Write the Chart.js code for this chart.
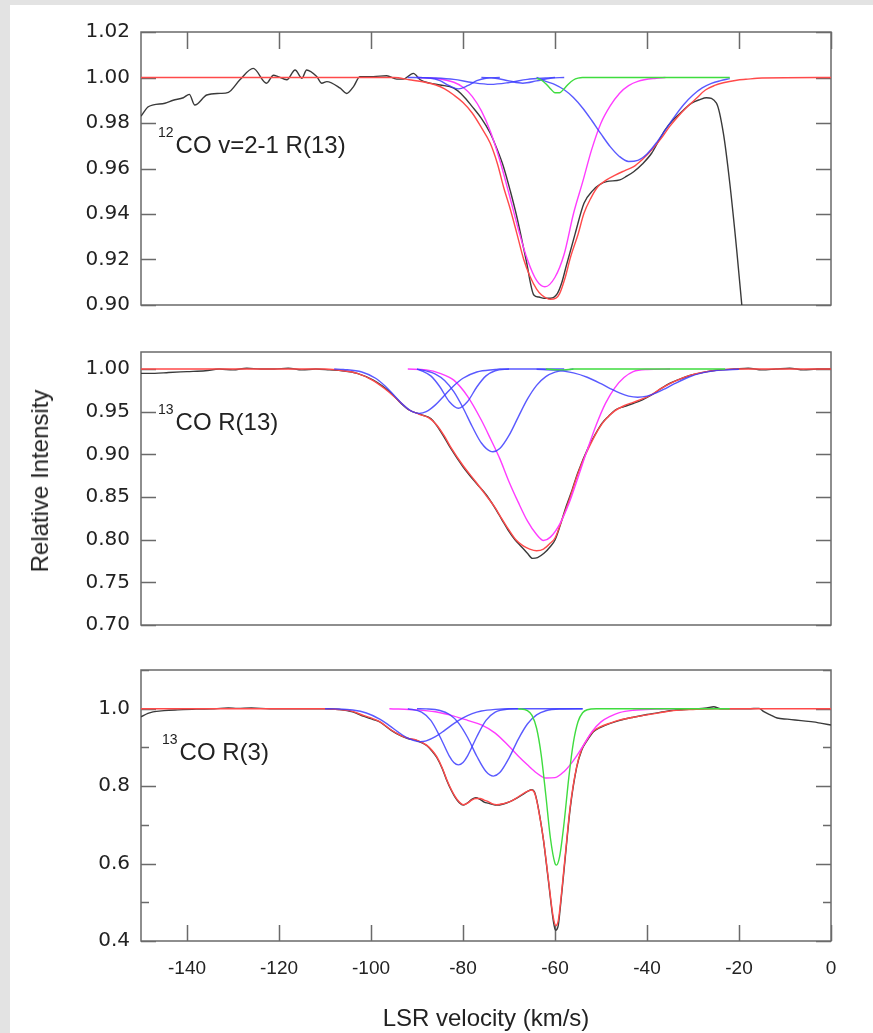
<!DOCTYPE html>
<html>
<head>
<meta charset="utf-8">
<title>CO line profiles</title>
<script src="https://cdn.jsdelivr.net/npm/chart.js@4.4.1/dist/chart.umd.min.js"></script>
<style>
  html, body { margin: 0; padding: 0; }
  body {
    width: 873px; height: 1033px; position: relative; overflow: hidden;
    background: #e3e3e3; color: #222;
    font-family: 'Liberation Sans', Arial, sans-serif;
  }
  #sheet { position: absolute; left: 10px; top: 5px; right: 0; bottom: 0; background: #fff; }
  canvas { position: absolute; left: 0; }
  .tag { position: absolute; font-size: 24px; line-height: 24px; white-space: nowrap; }
  .tag span { position: relative; top: -16px; font-size: 14px; margin-right: 2px; }
  #xtitle { position: absolute; left: 141px; width: 690px; top: 1006px; text-align: center; font-size: 24px; line-height: 24px; }
  #ytitle {
    position: absolute; left: 40px; top: 481px; font-size: 24px; line-height: 24px; white-space: nowrap;
    transform: translate(-50%, -50%) rotate(-90deg);
  }
</style>
</head>
<body>
<div id="sheet"></div>
<canvas id="panel1" width="873" height="300" style="top:20px"></canvas>
<canvas id="panel2" width="873" height="301" style="top:339px"></canvas>
<canvas id="panel3" width="873" height="378" style="top:655px"></canvas>

<div class="tag" style="left:158px; top:133px"><span>12</span>CO v=2-1 R(13)</div>
<div class="tag" style="left:158px; top:410px"><span>13</span>CO R(13)</div>
<div class="tag" style="left:162px; top:740px"><span>13</span>CO R(3)</div>
<div id="ytitle">Relative Intensity</div>
<div id="xtitle">LSR velocity (km/s)</div>

<script>
// ---- axis ticks ----
const xTickVals = [-140, -120, -100, -80, -60, -40, -20, 0];
const p1TickVals = [0.90, 0.92, 0.94, 0.96, 0.98, 1.00, 1.02];
const p2TickVals = [0.70, 0.75, 0.80, 0.85, 0.90, 0.95, 1.00];
const p3TickVals = [0.4, 0.5, 0.6, 0.7, 0.8, 0.9, 1.0, 1.1];

// ---- panel 1: 12CO v=2-1 R(13)   [velocity, intensity] ----
const p1Obs = [[-150,0.983],[-148.5,0.987],[-147.3,0.988],[-144.8,0.9887],[-143,0.990],[-140.8,0.9911],[-139.5,0.9926],
  [-138.3,0.9879],[-135.7,0.9923],[-132.8,0.993],[-131,0.9935],[-128.5,0.999],[-125.6,1.004],[-122.7,0.9975],
  [-121.2,1.001],[-120.2,1.0004],[-118.3,0.999],[-116.5,1.0033],[-115,0.9997],[-114,1.0033],[-111.8,1.0004],
  [-110.7,0.9975],[-109.6,0.9982],[-106.7,0.9953],[-105.3,0.993],[-103.8,0.996],[-102.4,1.0004],[-99.5,1.0004],
  [-96.6,1.0008],[-94.4,0.9993],[-93,0.9993],[-90.8,1.0018],[-89.3,0.999],[-87.2,0.9975],[-85,0.9967],[-82,0.9953],
  [-80,0.992],[-78,0.9872],[-76,0.982],[-74.1,0.9756],[-72.5,0.968],[-71.2,0.9608],[-69.7,0.950],[-68.3,0.9388],
  [-66.3,0.920],[-64.6,0.9044],[-63.5,0.9035],[-62.4,0.903],[-61,0.903],[-59.5,0.905],[-58.5,0.910],[-57.6,0.9168],
  [-55.6,0.9315],[-53.7,0.9447],[-51.7,0.9505],[-50.2,0.953],[-48.8,0.9542],[-45.9,0.955],[-44.5,0.9565],
  [-42.9,0.9586],[-41,0.962],[-39,0.9667],[-37.5,0.972],[-36.1,0.9769],[-34.5,0.981],[-33.2,0.9835],[-30.3,0.9887],
  [-28.5,0.9903],[-27.1,0.9911],[-24.9,0.9887],[-23.4,0.9755],[-22,0.9535],[-20.5,0.9242],[-19.3,0.898]];
const p1Fit = [[-150,1],[-95,1],[-91.7,0.999],[-88,0.9978],[-85.9,0.9967],[-84,0.995],[-82,0.9923],[-80,0.989],
  [-78,0.9844],[-76,0.978],[-74.1,0.9712],[-72.5,0.962],[-71.2,0.952],[-69.7,0.942],[-68.3,0.9315],[-66.8,0.920],
  [-65.4,0.9124],[-64,0.907],[-62.9,0.9044],[-61,0.9025],[-59.8,0.903],[-59,0.905],[-57.8,0.912],[-56.6,0.9212],
  [-55,0.931],[-53.7,0.9403],[-52.2,0.947],[-50.7,0.952],[-48.8,0.955],[-46.9,0.9571],[-44.9,0.959],[-42.9,0.9608],
  [-41,0.964],[-39,0.9681],[-37,0.973],[-35.1,0.9784],[-33.2,0.983],[-31.2,0.9872],[-29.2,0.991],[-27.3,0.9945],
  [-25.3,0.9965],[-23.4,0.9977],[-20.5,0.9988],[-18.5,0.9992],[-15,0.9998],[0,1]];
const p1Pink = [[-90,1],[-86,0.9996],[-82,0.9979],[-80,0.9957],[-78,0.9917],[-76,0.9853],[-74,0.976],[-72,0.9636],
  [-70,0.9489],[-68,0.9335],[-66,0.920],[-64,0.9108],[-62.2,0.908],[-60,0.9122],[-58,0.9224],[-56,0.940],[-54,0.954],
  [-52,0.9685],[-50,0.980],[-48,0.9875],[-46,0.993],[-44,0.9964],[-42,0.9983],[-38,0.9997],[-36,1]];
const p1BlueA = [[-64,1],[-62,0.9983],[-60,0.9969],[-58,0.9946],[-56,0.9912],[-54,0.9866],[-52,0.9811],[-50,0.9752],
  [-48,0.9696],[-46,0.9653],[-44,0.9631],[-42,0.9636],[-40,0.9664],[-38,0.9712],[-36,0.977],[-34,0.9828],
  [-32,0.9881],[-30,0.9923],[-28,0.9954],[-26,0.9974],[-24,0.9986],[-22,0.9995]];
const p1BlueB = [[-92,1],[-87,0.9997],[-85,0.9986],[-83,0.9964],[-81,0.995],[-79,0.9964],[-77,0.9986],[-75,0.9997],[-72,1]];
const p1BlueC = [[-90,1],[-86,0.9998],[-82,0.9992],[-78,0.9978],[-74,0.997],[-70,0.9978],[-66,0.9992],[-62,0.9998],[-60,1]];
const p1BlueD = [[-76,1],[-73,0.9997],[-70,0.9985],[-67,0.9975],[-64,0.9985],[-61,0.9997],[-58,1]];
const p1Green = [[-64,0.9997],[-63,0.9989],[-62,0.9973],[-61,0.9951],[-60,0.9933],[-59,0.9933],[-58,0.9951],
  [-57,0.9973],[-56,0.9989],[-55,0.9997],[-54,1],[-22,1]];

// ---- panel 2: 13CO R(13) ----
const p2Obs = [[-150,0.995],[-147,0.995],[-144,0.996],[-140,0.997],[-136,0.998],[-133,1.0],[-130,0.999],[-127,1.001],
  [-124,1.0],[-121,1.0],[-118,1.001],[-115,0.999],[-112,1.0],[-109,0.999],[-106.3,0.998],[-103,0.995],[-99.5,0.987],
  [-97.5,0.98],[-95.6,0.9716],[-93.5,0.96],[-91.7,0.952],[-88.8,0.9461],[-87,0.942],[-85.8,0.9344],[-84.3,0.922],
  [-82.9,0.909],[-80,0.8855],[-77.1,0.866],[-75,0.853],[-73.2,0.8386],[-71.5,0.823],[-70.2,0.8113],[-68.7,0.800],
  [-67.3,0.7918],[-66,0.784],[-64.9,0.7781],[-63.8,0.779],[-62.4,0.784],[-61,0.792],[-60,0.7996],[-58.8,0.818],
  [-57.6,0.8386],[-56.3,0.858],[-55.1,0.8777],[-52.7,0.909],[-51.2,0.924],[-49.8,0.9364],[-48.3,0.945],[-46.9,0.952],
  [-45,0.956],[-42.9,0.9599],[-41,0.964],[-39,0.9696],[-37,0.977],[-35.1,0.9833],[-33,0.988],[-30.3,0.993],
  [-27,0.997],[-24.5,0.9989],[-21,1.0],[-18,1.001],[-15,0.999],[-12,1.0],[-9,1.001],[-6,0.999],[-3,1.0],[0,1.0]];
const p2Fit = [[-150,1],[-110,1],[-106,0.998],[-103,0.995],[-100,0.988],[-97,0.977],[-94,0.963],[-91.7,0.952],
  [-89.5,0.947],[-87.5,0.943],[-85.8,0.935],[-84,0.921],[-82.5,0.907],[-80,0.887],[-77.1,0.867],[-75,0.852],
  [-73.2,0.839],[-71.5,0.824],[-70.2,0.813],[-68.5,0.800],[-67,0.793],[-65.5,0.789],[-64,0.787],[-62.5,0.789],
  [-61,0.796],[-60,0.802],[-58.5,0.823],[-57,0.845],[-55.1,0.876],[-53.5,0.898],[-52,0.915],[-50.5,0.930],
  [-49,0.941],[-47,0.951],[-45,0.957],[-43,0.961],[-41,0.965],[-39,0.970],[-37,0.977],[-35,0.983],[-33,0.988],
  [-31,0.992],[-28,0.996],[-24,0.999],[-20,1],[0,1]];
const p2Pink = [[-92,1],[-88,0.999],[-85,0.995],[-82,0.987],[-79,0.968],[-76,0.940],[-74,0.918],[-72,0.895],
  [-70,0.868],[-68,0.844],[-66,0.822],[-64,0.806],[-62.5,0.799],[-61,0.803],[-59,0.818],[-57,0.842],[-55,0.873],
  [-53,0.905],[-51,0.935],[-49,0.960],[-47,0.978],[-45,0.990],[-43,0.997],[-40,0.9995],[-35,1]];
const p2BlueA = [[-108,1],[-106,0.9995],[-102,0.9966],[-99,0.9892],[-97,0.9804],[-95,0.9693],[-93,0.958],[-91,0.950],
  [-89.5,0.948],[-88,0.950],[-86,0.958],[-84,0.9693],[-82,0.9804],[-80,0.9892],[-77,0.9966],[-73,0.9995],[-72,1],[-58,1]];
const p2BlueB = [[-90,1],[-89,0.998],[-87,0.992],[-85,0.979],[-83,0.962],[-81,0.954],[-79,0.962],[-77,0.979],
  [-75,0.992],[-73,0.998],[-70,1]];
const p2BlueC = [[-90,1],[-88,0.9978],[-86,0.9942],[-84,0.9867],[-82,0.9736],[-80,0.9547],[-78,0.9327],[-76,0.9133],
  [-74,0.9034],[-73.5,0.903],[-72,0.9068],[-70,0.9222],[-68,0.9437],[-66,0.9647],[-64,0.9809],[-62,0.9911],
  [-60,0.9964],[-57,0.9993],[-56,1]];
const p2BlueD = [[-64,0.9998],[-60,0.9988],[-56,0.9955],[-53,0.9904],[-50,0.9828],[-48,0.9771],[-46,0.972],
  [-44,0.9683],[-42,0.967],[-40,0.9683],[-38,0.972],[-36,0.9771],[-34,0.9828],[-31,0.9904],[-28,0.9955],
  [-24,0.9988],[-20,0.9998]];
const p2Green = [[-62,1],[-60,0.9992],[-58,0.999],[-56,1],[-23,1]];

// ---- panel 3: 13CO R(3) ----
const p3Obs = [[-150,0.979],[-148.5,0.988],[-147.4,0.992],[-145,0.995],[-142,0.997],[-138,0.999],[-134,1.0],
  [-131,1.002],[-129,1.001],[-126,1.002],[-122,1.0],[-118,1.0],[-114,1.0],[-110,1.0],[-107,0.998],[-104,0.992],
  [-101.5,0.980],[-99.5,0.972],[-98,0.965],[-95.6,0.944],[-93.7,0.931],[-92,0.923],[-90.1,0.918],[-87.9,0.905],
  [-86.7,0.890],[-85.7,0.874],[-84.5,0.845],[-83.5,0.814],[-82.5,0.788],[-81.7,0.771],[-80.8,0.757],[-79.9,0.751],
  [-79,0.757],[-78.1,0.766],[-77.2,0.770],[-76.3,0.766],[-75.4,0.759],[-74.5,0.756],[-73.6,0.753],[-72.7,0.751],
  [-71.2,0.754],[-69.8,0.760],[-68.3,0.769],[-66.9,0.779],[-65.9,0.787],[-65.1,0.791],[-64.5,0.786],[-64,0.766],
  [-63.3,0.722],[-62.5,0.660],[-61.5,0.562],[-60.4,0.455],[-59.9,0.428],[-59.3,0.440],[-58.9,0.480],[-57.8,0.612],
  [-56.7,0.742],[-55.3,0.848],[-54.2,0.893],[-53.1,0.916],[-51.7,0.940],[-50.2,0.951],[-48,0.962],[-45.9,0.970],
  [-43,0.978],[-40,0.985],[-37,0.991],[-34.3,0.996],[-30,0.999],[-27,1.002],[-25.5,1.005],[-24,1.0],[-21,1.0],
  [-18,1.0],[-15.6,1.001],[-14.7,0.993],[-13,0.983],[-11.7,0.976],[-9.5,0.973],[-7.8,0.971],[-5.5,0.968],
  [-3.9,0.966],[-2,0.962],[0,0.958]];
const p3Fit = [[-150,1],[-110,1],[-107,0.998],[-104,0.993],[-101.5,0.982],[-99.5,0.974],[-98,0.966],[-95.6,0.945],
  [-93.7,0.932],[-92,0.924],[-90.1,0.919],[-87.9,0.906],[-86.7,0.892],[-85.7,0.876],[-84.5,0.847],[-83.5,0.816],
  [-82.5,0.790],[-81.7,0.773],[-80.8,0.759],[-79.9,0.752],[-79,0.756],[-78.1,0.764],[-77.2,0.768],[-76.3,0.768],
  [-75.4,0.764],[-74.5,0.760],[-73.6,0.754],[-72.7,0.752],[-71.2,0.755],[-69.8,0.760],[-68.3,0.770],[-66.9,0.781],
  [-65.9,0.787],[-65.1,0.790],[-64.5,0.784],[-64,0.764],[-63.3,0.720],[-62.5,0.661],[-61.5,0.566],[-60.4,0.463],
  [-59.8,0.440],[-59.3,0.452],[-58.9,0.488],[-57.8,0.618],[-56.7,0.747],[-55.3,0.850],[-54.2,0.895],[-53.1,0.919],
  [-51.7,0.942],[-50.2,0.953],[-48,0.963],[-45.9,0.971],[-43,0.978],[-40,0.984],[-37,0.990],[-34.3,0.995],
  [-30,0.998],[-25,1],[0,1]];
const p3Pink = [[-96,1],[-90,0.997],[-86,0.992],[-82,0.981],[-79,0.970],[-76,0.958],[-73,0.937],[-70,0.903],
  [-68,0.878],[-66,0.855],[-64,0.834],[-62,0.821],[-60,0.822],[-58,0.838],[-56,0.866],[-54,0.902],[-52,0.940],
  [-50,0.966],[-48,0.980],[-46,0.990],[-43,0.996],[-38,0.999],[-34,1]];
const p3BlueA = [[-110,1],[-108,0.9995],[-104,0.9966],[-101,0.989],[-98,0.9725],[-96,0.9565],[-94,0.9389],
  [-92,0.9238],[-90,0.9156],[-89.3,0.915],[-88,0.9171],[-86,0.9278],[-84,0.9441],[-82,0.9616],[-80,0.9766],
  [-78,0.9873],[-76,0.994],[-73,0.9984],[-70,1],[-54,1]];
const p3BlueB = [[-92,1],[-89,0.991],[-87,0.9697],[-85,0.9277],[-83,0.8782],[-82,0.861],[-81,0.855],[-80,0.861],
  [-79,0.8782],[-77,0.9277],[-75,0.9697],[-73,0.991],[-70,0.9991],[-68,1]];
const p3BlueC = [[-90,1],[-88,0.9995],[-85,0.9954],[-83,0.9856],[-81,0.9635],[-79,0.9256],[-77,0.8773],[-75,0.8377],
  [-73.4,0.826],[-72,0.835],[-70,0.8726],[-68,0.9209],[-66,0.9605],[-64,0.984],[-62,0.9948],[-59,0.9994],[-54,1]];
const p3Green = [[-68,1],[-66,0.9953],[-65,0.9828],[-64,0.9495],[-63,0.881],[-62,0.777],[-61,0.666],[-60,0.600],
  [-59.7,0.596],[-59,0.618],[-58,0.708],[-57,0.822],[-56,0.913],[-55,0.9664],[-54,0.9895],[-53,0.9974],[-51,1],[-22,1]];

// colours
const cObs = '#3a3a3a';
const cFit = '#ff4a4a';
const cPink = '#ff3cff';
const cBlue = 'rgba(60,60,255,0.85)';
const cGreen = '#3fdc3f';

const pts = arr => arr.map(([x, y]) => ({ x, y }));

function line(data, color, order) {
    return {
        data: pts(data),
        borderColor: color,
        borderWidth: 1.4,
        pointRadius: 0,
        fill: false,
        cubicInterpolationMode: 'monotone',
        order: order
    };
}

// frame + inward tick marks, like the original plot
const boxTicks = {
    id: 'boxTicks',
    beforeDatasetsDraw(chart, args, opts) {
        const { ctx, chartArea: a } = chart;
        const xs = chart.scales.x, ys = chart.scales.y;
        ctx.save();
        ctx.strokeStyle = '#6a6a6a';
        ctx.lineWidth = 1.5;
        ctx.beginPath();
        ys.ticks.forEach(t => {
            const py = Math.round(ys.getPixelForValue(t.value)) + 0.5;
            const len = t.label === '' ? 8 : 15;
            ctx.moveTo(a.left, py); ctx.lineTo(a.left + len, py);
            ctx.moveTo(a.right - len, py); ctx.lineTo(a.right, py);
        });
        if (opts.xSide) {
            xs.ticks.forEach(t => {
                const px = Math.round(xs.getPixelForValue(t.value)) + 0.5;
                if (opts.xSide === 'top') { ctx.moveTo(px, a.top); ctx.lineTo(px, a.top + 17); }
                else { ctx.moveTo(px, a.bottom); ctx.lineTo(px, a.bottom - 16); }
            });
        }
        ctx.rect(a.left, a.top, a.right - a.left, a.bottom - a.top);
        ctx.stroke();
        ctx.restore();
    }
};

function buildChart(canvas, cfg) {
    return new Chart(canvas.getContext('2d'), {
        type: 'line',
        data: { datasets: cfg.datasets },
        plugins: [boxTicks],
        options: {
            responsive: false,
            maintainAspectRatio: false,
            animation: false,
            devicePixelRatio: 1,
            layout: { padding: { top: 0, right: 42, bottom: cfg.xHeight ? 0 : 2, left: 0 } },
            plugins: {
                legend: { display: false },
                tooltip: { enabled: false },
                boxTicks: { xSide: cfg.xSide }
            },
            scales: {
                x: {
                    type: 'linear',
                    min: -150,
                    max: 0,
                    afterBuildTicks: s => { s.ticks = xTickVals.map(v => ({ value: v })); },
                    afterFit: s => { s.height = cfg.xHeight; },
                    grid: { display: false, drawTicks: false },
                    border: { display: false },
                    ticks: {
                        display: cfg.xHeight > 0,
                        autoSkip: false,
                        maxRotation: 0,
                        padding: 16,
                        color: '#222',
                        font: { family: "'Liberation Sans', Arial, sans-serif", size: 19 },
                        callback: v => String(v)
                    }
                },
                y: {
                    min: cfg.yMin,
                    max: cfg.yMax,
                    afterBuildTicks: s => { s.ticks = cfg.yTicks.map(v => ({ value: v })); },
                    afterFit: s => { s.width = 141; },
                    grid: { display: false, drawTicks: false },
                    border: { display: false },
                    ticks: {
                        autoSkip: false,
                        padding: 11,
                        color: '#222',
                        font: { family: "'DejaVu Sans', Verdana, sans-serif", size: 20 },
                        callback: cfg.yFmt
                    }
                }
            }
        }
    });
}

// build, then resize/shift the canvas so the plot box lands at cfg.top..cfg.bottom
function makePanel(id, cfg) {
    const canvas = document.getElementById(id);
    const baseH = canvas.height;
    let chart = buildChart(canvas, cfg);
    const a = chart.chartArea;
    const extra = Math.round((cfg.bottom - cfg.top) - (a.bottom - a.top));
    chart.destroy();
    canvas.width = 873;
    canvas.height = baseH + extra;
    chart = buildChart(canvas, cfg);
    canvas.style.top = Math.round(cfg.top - chart.chartArea.top) + 'px';
    return chart;
}

makePanel('panel1', {
    top: 32, bottom: 305,
    yMin: 0.90, yMax: 1.02, yTicks: p1TickVals,
    yFmt: v => v.toFixed(2),
    xHeight: 0, xSide: 'top',
    datasets: [
        line(p1Green, cGreen, 1),
        line(p1BlueA, cBlue, 2),
        line(p1BlueB, cBlue, 2),
        line(p1BlueC, cBlue, 2),
        line(p1BlueD, cBlue, 2),
        line(p1Pink, cPink, 3),
        line(p1Fit, cFit, 4),
        line(p1Obs, cObs, 5)
    ]
});

makePanel('panel2', {
    top: 352, bottom: 625,
    yMin: 0.70, yMax: 1.02, yTicks: p2TickVals,
    yFmt: v => v.toFixed(2),
    xHeight: 0, xSide: null,
    datasets: [
        line(p2Green, cGreen, 1),
        line(p2BlueA, cBlue, 2),
        line(p2BlueB, cBlue, 2),
        line(p2BlueC, cBlue, 2),
        line(p2BlueD, cBlue, 2),
        line(p2Pink, cPink, 3),
        line(p2Fit, cFit, 4),
        line(p2Obs, cObs, 5)
    ]
});

makePanel('panel3', {
    top: 670, bottom: 941,
    yMin: 0.4, yMax: 1.1, yTicks: p3TickVals,
    yFmt: v => (Math.round(v * 10) % 2 === 0 ? v.toFixed(1) : ''),
    xHeight: 80, xSide: 'bottom',
    datasets: [
        line(p3Green, cGreen, 1),
        line(p3BlueA, cBlue, 2),
        line(p3BlueB, cBlue, 2),
        line(p3BlueC, cBlue, 2),
        line(p3Pink, cPink, 3),
        line(p3Fit, cFit, 4),
        line(p3Obs, cObs, 5)
    ]
});
</script>
</body>
</html>
